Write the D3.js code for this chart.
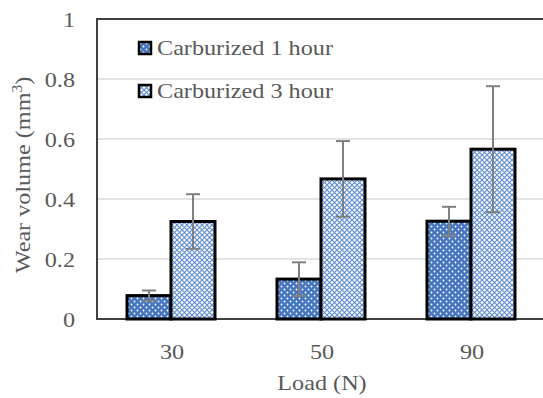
<!DOCTYPE html>
<html>
<head>
<meta charset="utf-8">
<script src="https://cdn.jsdelivr.net/npm/d3@7"></script>
<style>
  body { margin: 0; background: #fff; }
  text { font-family: "Liberation Serif", "Times New Roman", serif; fill: #595959; }
</style>
</head>
<body>
<svg width="543" height="398"></svg>
<script>
const loads = ['30', '50', '90'];
const seriesNames = ['Carburized 1 hour', 'Carburized 3 hour'];
const wear1h = [0.078, 0.133, 0.326];
const err1h = [0.017, 0.056, 0.048];
const wear3h = [0.325, 0.467, 0.566];
const err3h = [0.091, 0.126, 0.21];
const yTicks = [0, 0.2, 0.4, 0.6, 0.8, 1];

const margins = {left: 97, top: 19, bottom: 79};
const chartHeight = 398 - margins.top - margins.bottom;
const stretch = 1.1; // the reference type is a bit wider than Liberation Serif

const svg = d3.select('svg');
const defs = svg.append('defs');

// dotted fill for 1 hour
const dots = defs.append('pattern').attr('id', 'dots')
  .attr('width', 6).attr('height', 6).attr('patternUnits', 'userSpaceOnUse');
dots.append('rect').attr('width', 6).attr('height', 6).attr('fill', '#4677be');
dots.append('circle').attr('cx', 1.5).attr('cy', 1.5).attr('r', 0.9).attr('fill', '#fff');
dots.append('circle').attr('cx', 4.5).attr('cy', 4.5).attr('r', 0.9).attr('fill', '#fff');

// diamond lattice for 3 hour
const lattice = defs.append('pattern').attr('id', 'lattice')
  .attr('width', 5).attr('height', 5).attr('patternUnits', 'userSpaceOnUse');
lattice.append('rect').attr('width', 5).attr('height', 5).attr('fill', '#fff');
lattice.append('path').attr('d', 'M0,0L5,5M5,0L0,5')
  .attr('stroke', '#5b8bd0').attr('stroke-width', 1.1);

const data = loads.map((l, i) => ({
  load: l,
  vals: [
    {s: 0, v: wear1h[i], e: err1h[i]},
    {s: 1, v: wear3h[i], e: err3h[i]}
  ]
}));

const x = d3.scaleBand().domain(loads).range([margins.left, margins.left + 450]);
const xInner = d3.scaleBand().domain([0, 1]).range([30, 118]);
const y = d3.scaleLinear().domain([0, 1]).range([margins.top + chartHeight, margins.top]);

// gridlines
svg.append('g').selectAll('line').data(yTicks.filter(t => t > 0 && t < 1)).join('line')
  .attr('x1', margins.left).attr('x2', 543)
  .attr('y1', d => y(d)).attr('y2', d => y(d))
  .attr('stroke', '#d9d9d9').attr('stroke-width', 1.5);

// frame
svg.append('path')
  .attr('d', `M543,${y(1)}H${margins.left}V${y(0)}H543`)
  .attr('fill', 'none').attr('stroke', '#404040').attr('stroke-width', 2);

// y axis
const yAxis = svg.append('g').attr('transform', `translate(${margins.left},0)`)
  .call(d3.axisLeft(y).tickValues(yTicks).tickSize(0).tickPadding(20).tickFormat(d3.format('~g')));
yAxis.select('.domain').remove();
yAxis.selectAll('text').style('font-size', '22px').attr('fill', '#595959')
  .attr('transform', `scale(${stretch},1)`);

// x axis
const xAxis = svg.append('g').attr('transform', `translate(0,${y(0)})`)
  .call(d3.axisBottom(x).tickSize(0).tickPadding(24));
xAxis.select('.domain').remove();
xAxis.selectAll('text').style('font-size', '22px').attr('fill', '#595959')
  .attr('transform', `scale(${stretch},1)`);

// bars
const groups = svg.append('g').selectAll('g').data(data).join('g')
  .attr('transform', d => `translate(${x(d.load)},0)`);

groups.selectAll('rect').data(d => d.vals).join('rect')
  .attr('x', d => xInner(d.s))
  .attr('width', xInner.bandwidth())
  .attr('y', d => y(d.v))
  .attr('height', d => y(0) - y(d.v))
  .attr('fill', d => d.s === 0 ? 'url(#dots)' : 'url(#lattice)')
  .attr('stroke', '#000').attr('stroke-width', 3);

// error bars
const eb = groups.selectAll('g.err').data(d => d.vals).join('g').attr('class', 'err')
  .attr('stroke', '#7f7f7f').attr('stroke-width', 2);
const cx = d => xInner(d.s) + xInner.bandwidth() / 2;
eb.append('line').attr('x1', cx).attr('x2', cx)
  .attr('y1', d => y(d.v + d.e)).attr('y2', d => y(d.v - d.e));
eb.append('line').attr('x1', d => cx(d) - 7).attr('x2', d => cx(d) + 7)
  .attr('y1', d => y(d.v + d.e)).attr('y2', d => y(d.v + d.e));
eb.append('line').attr('x1', d => cx(d) - 7).attr('x2', d => cx(d) + 7)
  .attr('y1', d => y(d.v - d.e)).attr('y2', d => y(d.v - d.e));

// legend
const legend = svg.append('g').selectAll('g').data(seriesNames).join('g')
  .attr('transform', (d, i) => `translate(139,${42 + i * 43})`);
legend.append('rect').attr('width', 12).attr('height', 12)
  .attr('fill', (d, i) => i === 0 ? 'url(#dots)' : 'url(#lattice)')
  .attr('stroke', '#000').attr('stroke-width', 2.5);
legend.append('text').attr('transform', `translate(18,13) scale(${stretch},1)`).text(d => d)
  .style('font-size', '22px');

// axis titles
svg.append('text').attr('transform', `translate(322,390) scale(${stretch},1)`)
  .attr('text-anchor', 'middle').style('font-size', '22px').text('Load (N)');
const yt = svg.append('text').attr('transform', `translate(30,175) rotate(-90) scale(${stretch},1)`)
  .attr('text-anchor', 'middle').style('font-size', '22px');
yt.append('tspan').text('Wear volume (mm');
yt.append('tspan').attr('dy', -8).style('font-size', '14px').text('3');
yt.append('tspan').attr('dy', 8).text(')');
</script>
</body>
</html>
